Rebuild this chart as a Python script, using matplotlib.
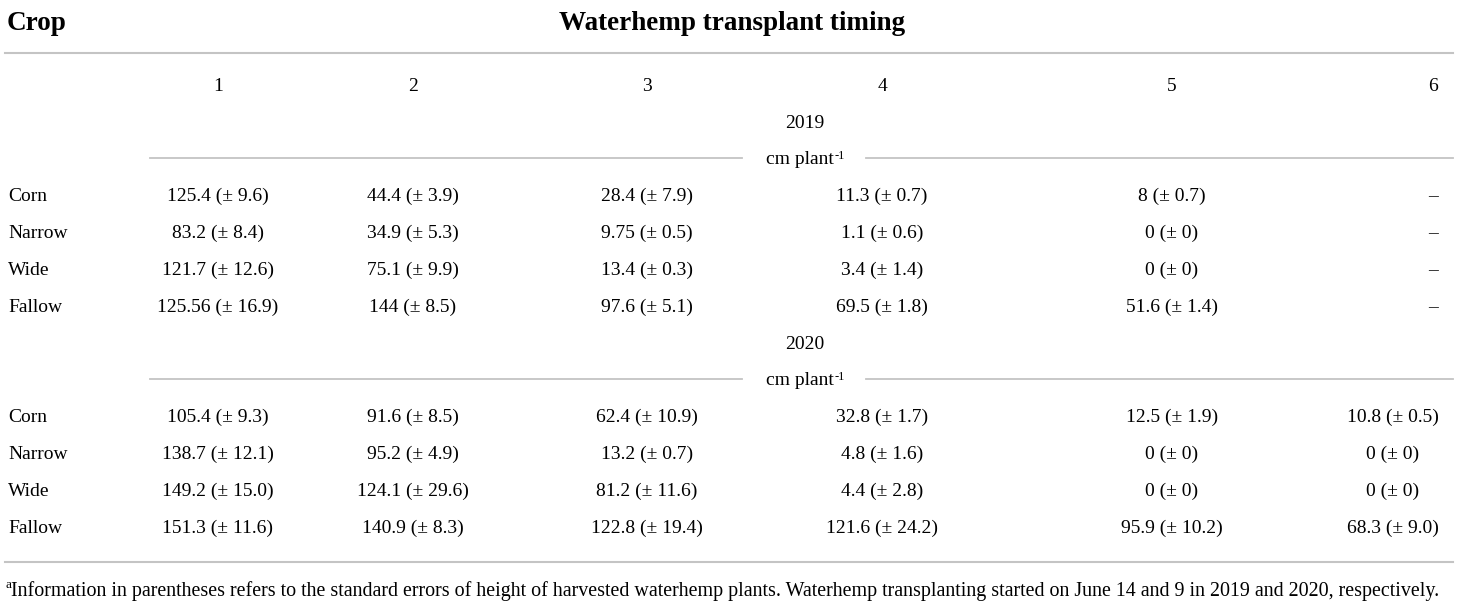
import matplotlib.pyplot as plt

plt.rcParams['font.family'] = 'Liberation Serif'

# Table data
crops = ['Corn', 'Narrow', 'Wide', 'Fallow']
timings = ['1', '2', '3', '4', '5', '6']
years = ['2019', '2020']

height_2019 = [[125.4, 44.4, 28.4, 11.3, 8, None],
               [83.2, 34.9, 9.75, 1.1, 0, None],
               [121.7, 75.1, 13.4, 3.4, 0, None],
               [125.56, 144, 97.6, 69.5, 51.6, None]]
se_2019 = [[9.6, 3.9, 7.9, 0.7, 0.7, None],
           [8.4, 5.3, 0.5, 0.6, 0, None],
           [12.6, 9.9, 0.3, 1.4, 0, None],
           [16.9, 8.5, 5.1, 1.8, 1.4, None]]

height_2020 = [[105.4, 91.6, 62.4, 32.8, 12.5, 10.8],
               [138.7, 95.2, 13.2, 4.8, 0, 0],
               [149.2, 124.1, 81.2, 4.4, 0, 0],
               [151.3, 140.9, 122.8, 121.6, 95.9, 68.3]]
se_2020 = [["9.3", "8.5", "10.9", "1.7", "1.9", "0.5"],
           ["12.1", "4.9", "0.7", "1.6", "0", "0"],
           ["15.0", "29.6", "11.6", "2.8", "0", "0"],
           ["11.6", "8.3", "19.4", "24.2", "10.2", "9.0"]]

footnote = ('Information in parentheses refers to the standard errors of height of '
            'harvested waterhemp plants. Waterhemp transplanting started on June 14 and 9 '
            'in 2019 and 2020, respectively.')

fig = plt.figure(figsize=(14.6, 6.03), dpi=100)
ax = fig.add_axes([0, 0, 1, 1])
ax.set_xlim(0, 1460)
ax.set_ylim(603, 0)
ax.axis('off')

col_x = [218, 413, 647, 882, 1172, 1433]
val_x = [218, 413, 647, 882, 1172, 1393]
line_col = '#c4c4c4'
fs = 14
dy = 6  # baseline offset from row centre

ax.text(7, 22 + 8, 'Crop', fontsize=19.5, fontweight='bold', va='baseline', ha='left')
ax.text(732, 22 + 8, 'Waterhemp transplant timing', fontsize=19.5, fontweight='bold',
        va='baseline', ha='center')
ax.plot([5, 1453], [53, 53], color=line_col, lw=1.5)

for x, t in zip(col_x, timings):
    ax.text(x, 85 + dy, t, fontsize=fs, va='baseline', ha='center')

def block(y0, year, heights, ses):
    ax.text(805, y0 + dy, year, fontsize=fs, va='baseline', ha='center')
    unit = ax.text(800, y0 + 36 + dy, 'cm plant', fontsize=fs, va='baseline', ha='center')
    ax.annotate('-1', xy=(1, 1), xycoords=unit, xytext=(0.5, 1), textcoords='offset points',
                fontsize=9, ha='left', va='top')
    ax.plot([150, 742], [y0 + 36, y0 + 36], color=line_col, lw=1.3)
    ax.plot([866, 1453], [y0 + 36, y0 + 36], color=line_col, lw=1.3)
    for i, crop in enumerate(crops):
        y = y0 + 73 + i * 37 + dy
        ax.text(8, y, crop, fontsize=fs, va='baseline', ha='left')
        for j in range(len(timings)):
            h = heights[i][j]
            if h is None:
                ax.text(col_x[j], y, '\u2013', fontsize=fs, va='baseline', ha='center')
            else:
                ax.text(val_x[j], y, f'{h} (\u00b1 {ses[i][j]})', fontsize=fs,
                        va='baseline', ha='center')

block(122, years[0], height_2019, se_2019)
block(343, years[1], height_2020, se_2020)

ax.plot([5, 1453], [562, 562], color=line_col, lw=1.5)
ax.text(5, 588, 'a', fontsize=9.5, va='baseline', ha='left')
ax.text(11, 596, footnote, fontsize=14.45, va='baseline', ha='left')

fig.savefig('out.png', dpi=100)
